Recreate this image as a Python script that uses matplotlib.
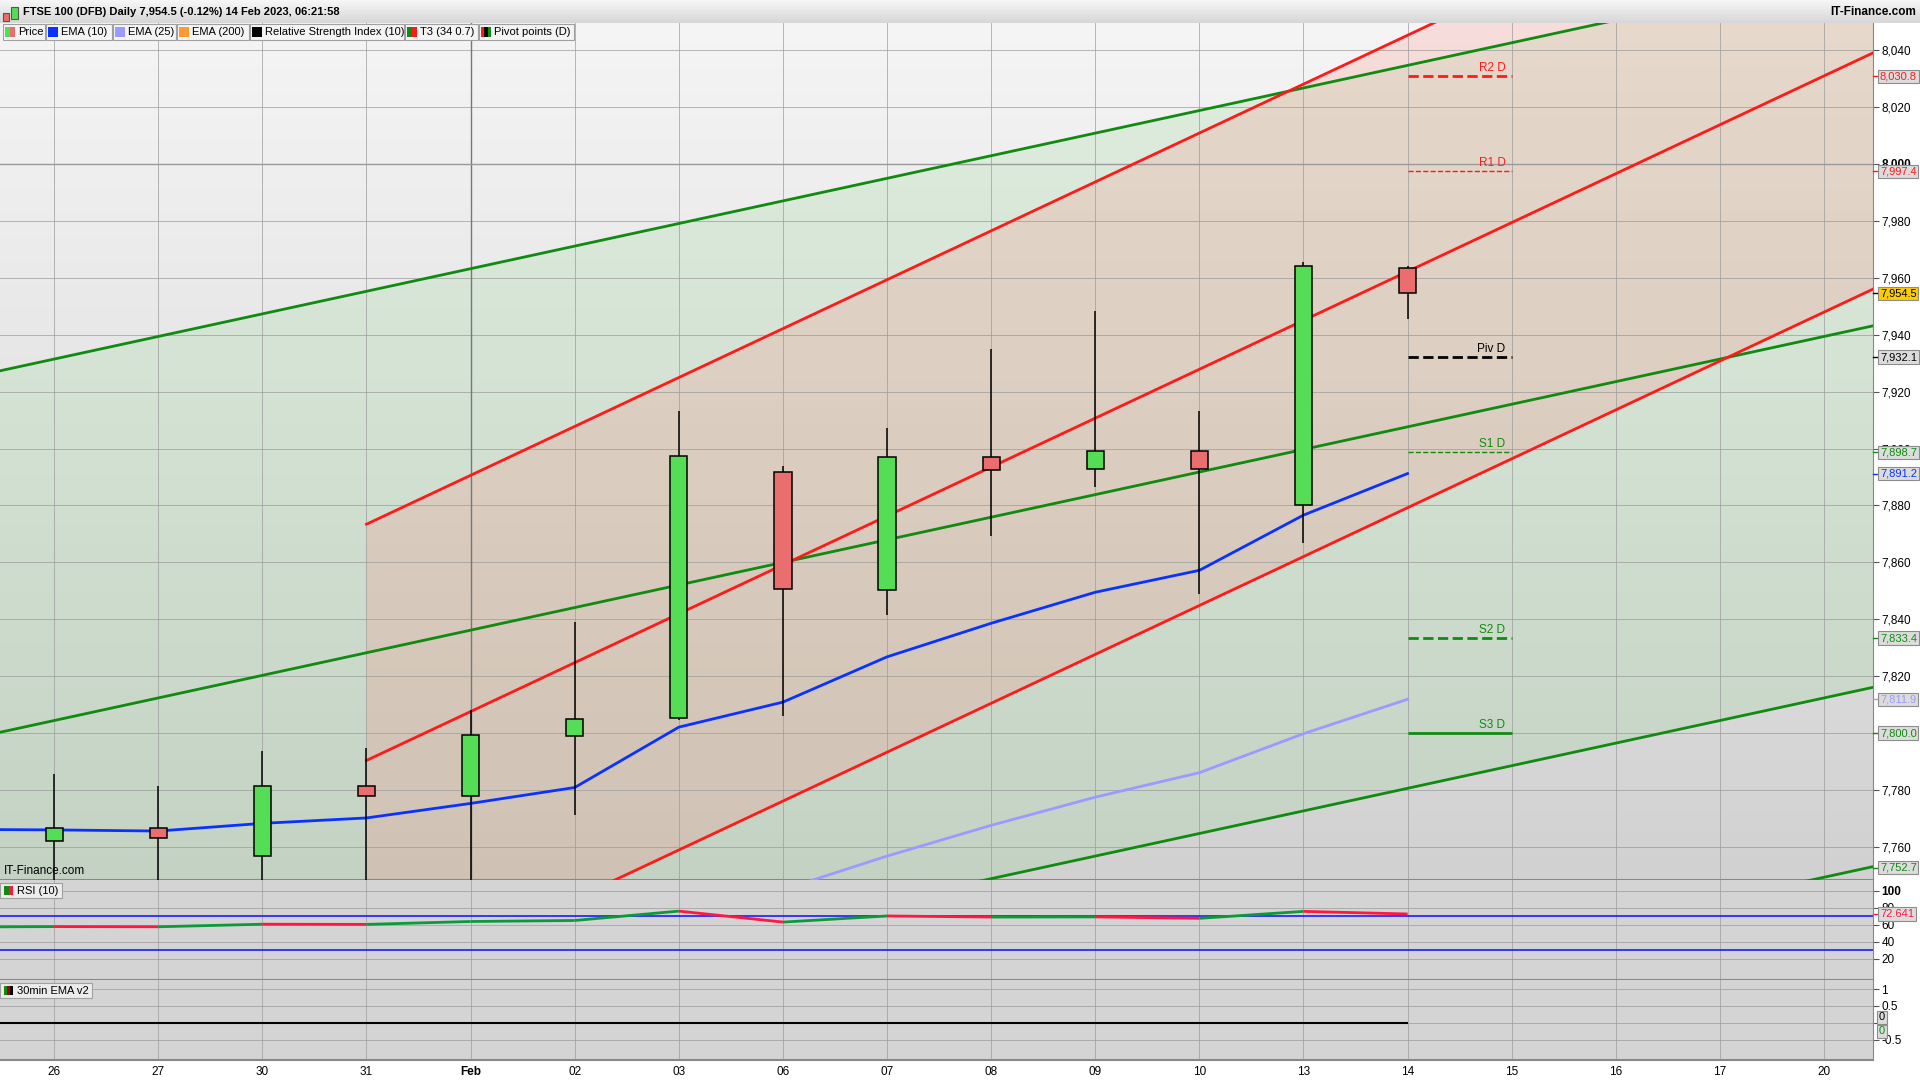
import numpy as np
import matplotlib
matplotlib.use('Agg')
import matplotlib.pyplot as plt
from matplotlib.patches import Rectangle
from matplotlib.transforms import blended_transform_factory

plt.rcParams['font.family'] = ['Liberation Sans', 'DejaVu Sans']

# ---- data ----
dates = ['26', '27', '30', '31', 'Feb', '02', '03', '06', '07', '08', '09', '10',
         '13', '14', '15', '16', '17', '20']
opens = [7762.0, 7766.5, 7757.0, 7781.6, 7778.0, 7798.9, 7805.2, 7891.6, 7850.2,
         7896.9, 7892.7, 7899.3, 7880.0, 7963.3]
highs = [7785.5, 7781.4, 7793.7, 7794.7, 7808.3, 7839.0, 7913.2, 7893.8, 7907.2,
         7934.9, 7948.3, 7913.2, 7965.5, 7964.1]
lows = [7735.0, 7733.0, 7738.0, 7742.0, 7744.0, 7771.3, 7804.6, 7806.1, 7841.6,
        7869.3, 7886.6, 7849.0, 7866.8, 7945.4]
closes = [7766.5, 7763.0, 7781.3, 7778.0, 7799.2, 7804.8, 7897.2, 7850.5, 7896.9,
          7892.3, 7899.0, 7892.7, 7964.0, 7954.5]

# EMA(10) starts one session before the first candle (25 Jan)
ema10 = [7766.2, 7766.0, 7765.6, 7768.3, 7770.2, 7775.3, 7780.9, 7802.1, 7810.9,
         7826.8, 7838.6, 7849.5, 7857.2, 7876.6, 7891.2]
# EMA(25) from 06 Feb onwards (earlier values are below the visible range)
ema25 = [7745.0, 7756.8, 7767.6, 7777.5, 7786.1, 7799.8, 7811.9]

# RSI(10), also from 25 Jan
rsi = [57.3, 57.8, 57.6, 60.6, 60.4, 63.8, 65.0, 76.0, 63.1, 70.3, 69.0, 69.2,
       67.5, 75.7, 72.641]

# daily pivot points for 14 Feb
pivot_names = ['R2 D', 'R1 D', 'Piv D', 'S1 D', 'S2 D', 'S3 D']
pivot_values = [8030.8, 7997.4, 7932.1, 7898.7, 7833.4, 7800.0]

# trend channels: middle line value at left / right edge, and band offsets
green_mid = [7800.3, 7943.1]
green_offsets = [127.0, 0.0, -127.0, -190.0]
red_mid = [7790.4, 8039.0]   # from 31 Jan to the right edge
red_offsets = [83.0, 0.0, -83.0]

# ---- layout ----
W, H = 1920, 1080
X0, X1 = -0.52, 17.47
FS = 8
fig = plt.figure(figsize=(19.2, 10.8), dpi=100)
fig.patch.set_facecolor('white')


def fx(px):
    return px / W


def fy(py):
    return 1 - py / H


ax = fig.add_axes([0, fy(880), fx(1873), (880 - 23) / H])
ax_rsi = fig.add_axes([0, fy(980), fx(1873), 100 / H], sharex=ax)
ax_ema = fig.add_axes([0, fy(1060), fx(1873), 80 / H], sharex=ax)

# gradient background of price panel
grad = np.linspace(0.96, 0.82, 256)[:, None, None] * np.ones((1, 1, 3))
ax.imshow(grad, extent=[0, 1, 0, 1], transform=ax.transAxes, aspect='auto', zorder=0)

xs = np.linspace(X0, X1, 60)
g_mid = np.interp(xs, [X0, X1], green_mid)
ax.fill_between(xs, g_mid + green_offsets[2], g_mid + green_offsets[0],
                color=(0.6, 0.85, 0.6), alpha=0.22, lw=0, zorder=1)
xr = np.linspace(3, X1, 60)
r_mid = np.interp(xr, [3, X1], red_mid)
ax.fill_between(xr, r_mid + red_offsets[2], r_mid + red_offsets[0],
                color=(1.0, 0.5, 0.45), alpha=0.2, lw=0, zorder=1)

for off in green_offsets:
    ax.plot(xs, g_mid + off, color='#108a10', lw=2, zorder=3)
for off in red_offsets:
    ax.plot(xr, r_mid + off, color='#ff1a1a', lw=2, zorder=3)

ax.plot(np.arange(-1, len(ema10) - 1), ema10, color='#0a32ff', lw=2, zorder=4)
ax.plot(np.arange(7, 7 + len(ema25)), ema25, color='#9a9aff', lw=2, zorder=4)

# candles
bw = 0.165
for i, (o, h, l, c) in enumerate(zip(opens, highs, lows, closes)):
    ax.vlines(i, l, h, color='black', lw=1.1, zorder=5)
    fc = '#55dd55' if c >= o else '#ea6e6e'
    ax.add_patch(Rectangle((i - bw / 2, min(o, c)), bw, abs(c - o), fc=fc,
                           ec='black', lw=1.1, zorder=6))

# pivot lines
piv_style = {'R2 D': ('#ff1a1a', '--', 2.0), 'R1 D': ('#ff1a1a', '--', 1.0),
             'Piv D': ('black', '--', 2.0), 'S1 D': ('#108a10', '--', 1.0),
             'S2 D': ('#108a10', '--', 2.0), 'S3 D': ('#108a10', '-', 2.0)}
for name, val in zip(pivot_names, pivot_values):
    col, ls, lw = piv_style[name]
    ax.hlines(val, 13, 14, colors=col, linestyles=ls, lw=lw, zorder=4)
    ax.text(13.94, val + 0.8, name, color=col, fontsize=8.5, ha='right', va='bottom', zorder=7)

ax.set_xlim(X0, X1)
ax.set_ylim(7748.4, 8049.5)

# grid
for a in (ax, ax_rsi, ax_ema):
    a.set_xticks(range(len(dates)))
    a.grid(True, color='#9a9a9a', lw=0.7, alpha=0.7)
    a.set_axisbelow('line')
    a.tick_params(axis='x', length=0)
    for s in ('left', 'top'):
        a.spines[s].set_visible(False)
    a.spines['right'].set_color('#888888')
    a.spines['bottom'].set_color('#888888')
    a.spines['bottom'].set_linewidth(1.5)
    a.yaxis.tick_right()
    a.tick_params(axis='y', length=4, pad=2, labelsize=FS + 0.5, color='#555555',
                  direction='out')
ax.axvline(4, color='#777777', lw=1.0, zorder=1.6)
ax.axhline(8000, color='#9a9a9a', lw=1.0, zorder=1.6)
ax.tick_params(axis='x', labelbottom=False)
ax_rsi.tick_params(axis='x', labelbottom=False)

yt = np.arange(7760, 8041, 20)
ax.set_yticks(yt)
ax.set_yticklabels(['' if v == 7800 else f"{v:,}" for v in yt])
for lab, v in zip(ax.get_yticklabels(), yt):
    if v == 8000:
        lab.set_fontweight('bold')

ax.text(0.002, 0.004, 'IT-Finance.com', transform=ax.transAxes, fontsize=FS + 0.5,
        ha='left', va='bottom', zorder=8)

# right-side value boxes
trans_main = blended_transform_factory(fig.transFigure, ax.transData)
value_boxes = [(8030.8, '#ff1a1a', '#dcdcdc'), (7997.4, '#ff1a1a', '#dcdcdc'),
               (7954.5, 'black', '#ffcc00'), (7932.1, 'black', '#dcdcdc'),
               (7898.7, '#108a10', '#dcdcdc'), (7891.2, '#0a32ff', '#dcdcdc'),
               (7833.4, '#108a10', '#dcdcdc'), (7811.9, '#9a9aff', '#dcdcdc'),
               (7800.0, '#108a10', '#dcdcdc'), (7752.7, '#108a10', '#dcdcdc')]
for val, tc, fc in value_boxes:
    ax.plot([fx(1873), fx(1878)], [val, val], color=tc, lw=1, transform=trans_main,
            clip_on=False, zorder=9)
    ax.text(fx(1880), val, f"{val:,.1f}", transform=trans_main, color=tc, fontsize=FS,
            ha='left', va='center', zorder=10, clip_on=False,
            bbox=dict(boxstyle='square,pad=0.15', fc=fc, ec='#8c8c8c', lw=0.8))

# ---- RSI panel ----
ax_rsi.set_facecolor('#d4d4d4')
ax_rsi.set_ylim(-5, 112.6)
ax_rsi.set_yticks([20, 40, 60, 80, 100])
ax_rsi.set_yticklabels(['20', '40', '60', '80', '100'])
ax_rsi.get_yticklabels()[-1].set_fontweight('bold')
ax_rsi.axhline(70, color='#1a1aff', lw=1.2, zorder=2)
ax_rsi.axhline(30, color='#1a1aff', lw=1.2, zorder=2)
rx = np.arange(-1, len(rsi) - 1)
for i in range(len(rsi) - 1):
    col = '#0b9a3a' if rsi[i + 1] >= rsi[i] else '#ff1744'
    ax_rsi.plot(rx[i:i + 2], rsi[i:i + 2], color=col, lw=2, zorder=3,
                solid_capstyle='butt')
trans_rsi = blended_transform_factory(fig.transFigure, ax_rsi.transData)
ax_rsi.plot([fx(1873), fx(1878)], [rsi[-1]] * 2, color='#ff1744', lw=1,
            transform=trans_rsi, clip_on=False)
ax_rsi.text(fx(1880), rsi[-1], f"{rsi[-1]:.3f}", transform=trans_rsi, color='#ff1744',
            fontsize=FS, ha='left', va='center', zorder=10, clip_on=False,
            bbox=dict(boxstyle='square,pad=0.15', fc='#dcdcdc', ec='#8c8c8c', lw=0.8))

# ---- 30min EMA panel ----
ax_ema.set_facecolor('#d4d4d4')
ax_ema.set_ylim(-1.09, 1.265)
ax_ema.set_yticks([1, 0.5, 0, -0.5])
ax_ema.set_yticklabels(['1', '0.5', '', '-0.5'])
ax_ema.hlines(0, X0, 13, color='black', lw=1.5, zorder=3)
trans_ema = blended_transform_factory(fig.transFigure, ax_ema.transData)
ax_ema.text(fx(1879), 0.17, '0', transform=trans_ema, color='black', fontsize=FS,
            ha='left', va='center', clip_on=False, zorder=10,
            bbox=dict(boxstyle='square,pad=0.15', fc='#dcdcdc', ec='#8c8c8c', lw=0.8))
ax_ema.text(fx(1879), -0.25, '0', transform=trans_ema, color='#108a10', fontsize=FS,
            ha='left', va='center', clip_on=False, zorder=10,
            bbox=dict(boxstyle='square,pad=0.15', fc='#dcdcdc', ec='#8c8c8c', lw=0.8))

ax_ema.set_xticklabels(dates)
ax_ema.tick_params(axis='x', labelsize=8.5, pad=4)
for lab in ax_ema.get_xticklabels():
    if lab.get_text() == 'Feb':
        lab.set_fontweight('bold')
ax.set_xlim(X0, X1)


# ---- header and legend boxes ----
hdr = fig.add_axes([0, fy(23), 1, 23 / H])
hgrad = np.linspace(0.97, 0.84, 64)[:, None, None] * np.ones((1, 1, 3))
hdr.imshow(hgrad, extent=[0, 1, 0, 1], aspect='auto')
hdr.axis('off')


def rect(x0, y0, x1, y1, fc, ec='none', lw=0.8, z=20):
    fig.add_artist(Rectangle((fx(x0), fy(y1)), fx(x1 - x0), (y1 - y0) / H,
                             transform=fig.transFigure, fc=fc, ec=ec, lw=lw, zorder=z))


rect(3, 13, 8.5, 21, '#ea6e6e', '#555555')
rect(10.5, 7, 17.5, 19, '#55dd55', '#555555')
fig.text(fx(23), fy(12), 'FTSE 100 (DFB) Daily 7,954.5 (-0.12%) 14 Feb 2023, 06:21:58',
         fontsize=8, fontweight='bold', va='center', ha='left', zorder=21)
fig.text(fx(1916), fy(12), 'IT-Finance.com', fontsize=8.5, fontweight='bold',
         va='center', ha='right', zorder=21)

legend_items = [('Price', 3, 45, ['#55dd55', '#ea6e6e']),
                ('EMA (10)', 46, 112, ['#0a32ff']),
                ('EMA (25)', 112.5, 176, ['#9a9aff']),
                ('EMA (200)', 177, 249, ['#ff9933']),
                ('Relative Strength Index (10)', 250, 404, ['black']),
                ('T3 (34 0.7)', 405, 478, ['#108a10', '#ff1a1a']),
                ('Pivot points (D)', 479, 574, ['#ff1a1a', 'black', '#108a10'])]
for text, x0, x1, cols in legend_items:
    rect(x0, 24, x1, 40, '#f4f4f4', '#a0a0a0')
    n = len(cols)
    for k, c in enumerate(cols):
        rect(x0 + 2 + k * 10 / n, 27, x0 + 2 + (k + 1) * 10 / n, 37, c, z=21)
    fig.text(fx(x0 + 15), fy(32), text, fontsize=8, va='center', ha='left', zorder=22)

for text, y0, y1, x1, cols in [('RSI (10)', 883, 898, 62, ['#108a10', '#ff1744']),
                               ('30min EMA v2', 983, 998, 92, ['#108a10', '#aa0000', 'black'])]:
    rect(0, y0, x1, y1, '#ececec', '#a0a0a0')
    n = len(cols)
    for k, c in enumerate(cols):
        rect(4 + k * 9 / n, y0 + 3, 4 + (k + 1) * 9 / n, y1 - 3, c, z=21)
    fig.text(fx(17), fy((y0 + y1) / 2), text, fontsize=8, va='center', ha='left', zorder=22)

plt.savefig('out.png', dpi=100)
